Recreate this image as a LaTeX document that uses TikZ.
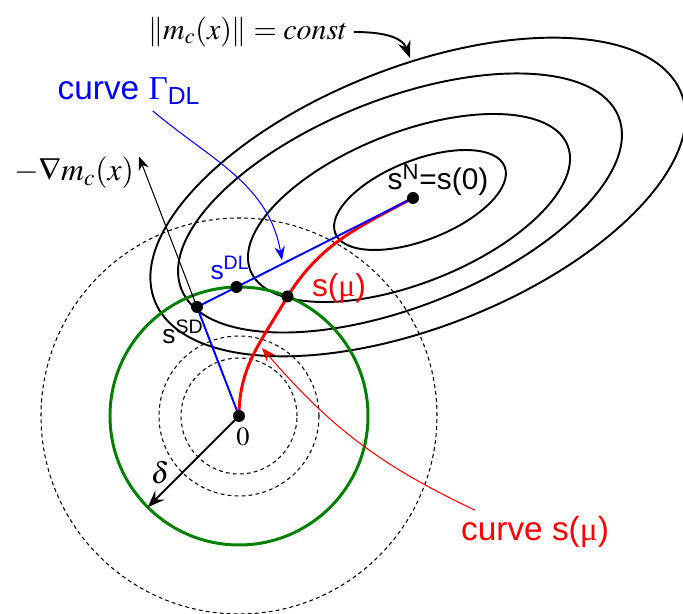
\documentclass[tikz,border=0pt]{standalone}
\usepackage{mathptmx}
\usepackage[no-math]{fontspec}
\setmainfont{Liberation Sans}
\newfontfamily\tms{Liberation Serif}
\usetikzlibrary{arrows.meta}

\begin{document}
\begin{tikzpicture}[every node/.style={font=\fontsize{15}{18}\selectfont},
	>={Stealth[length=3.4mm, width=2.6mm, inset=1.2mm]},
	isoline/.style={line width=1.1pt},
	dashring/.style={line width=0.6pt, dash pattern=on 2.2pt off 1.8pt},
	pointer/.style={line width=0.6pt, -{Stealth[length=2.7mm, width=2.1mm, inset=0.9mm]}},
	bigfont/.style={font=\fontsize{19}{22}\selectfont},
	mathfont/.style={font=\fontsize{17}{20}\selectfont}]
	\useasboundingbox (-4.78,-3.96) rectangle (8.88,8.32);
	\coordinate (O) at (0,0);
	\coordinate (sN) at (3.48,4.36);
	\coordinate (sSD) at (-0.84,2.18);
	\coordinate (sDL) at (-0.05,2.58);
	\coordinate (smu) at (0.97,2.39);
	\coordinate (gradTip) at (-2.0,5.19);
	\coordinate (constTip) at (3.42,7.16);
	\coordinate (dlTip) at (0.86,3.12);
	\coordinate (muTip) at (0.46,1.36);
	\coordinate (deltaTip) at (225:2.58);
	\draw[isoline, rotate around={21.5:(3.62,4.32)}] (3.62,4.32) ellipse (1.82 and 0.80);
	\draw[isoline, rotate around={21.5:(3.40,4.16)}] (3.40,4.16) ellipse (3.41 and 1.51);
	\draw[isoline, rotate around={21.5:(3.22,4.26)}] (3.22,4.26) ellipse (4.70 and 2.08);
	\draw[isoline, rotate around={21.5:(3.58,4.38)}] (3.58,4.38) ellipse (5.66 and 2.60);
	\draw[dashring] (O) circle (1.16);
	\draw[dashring] (O) circle (1.6);
	\draw[dashring] (O) circle (3.96);
	\draw[green!50!black, line width=1.7pt] (O) circle (2.58);
	\draw[pointer] (O) -- (gradTip);
	\draw[red, line width=1.7pt] (O) to[out=90, in=240] (smu) to[out=58, in=208] (sN);
	\draw[blue, line width=1.1pt] (O) -- (sSD) -- (sN);
	\draw[->, line width=1.1pt] (O) -- (deltaTip);
	\fill (O) circle (0.12);
	\fill (sN) circle (0.12);
	\fill (sSD) circle (0.12);
	\fill (sDL) circle (0.12);
	\fill (smu) circle (0.12);
	\node[mathfont] (const) at (0.18,7.68) {$\left\| m_c(x) \right\| = const$};
	\node[font=\fontsize{18}{21}\selectfont] (grad) at (-3.3,4.86) {$-\nabla m_c(x)$};
	\node[bigfont, blue] (dlcurve) at (-2.2,6.5) {curve {\tms Γ}\textsubscript{DL}};
	\node[bigfont, red] (mucurve) at (5.92,-2.32) {curve s({\tms μ})};
	\node[font=\fontsize{17}{20}\selectfont] (nlabel) at (3.98,4.72) {s\textsuperscript{N}=s(0)};
	\node[blue] (dllabel) at (-0.18,2.96) {s\textsuperscript{DL}};
	\node (sdlabel) at (-1.12,1.68) {s\textsuperscript{SD}};
	\node[red, font=\fontsize{18}{21}\selectfont] (mulabel) at (2.0,2.56) {s({\tms μ})};
	\node (zero) at (0.08,-0.42) {$0$};
	\node[mathfont] (delta) at (-1.58,-1.14) {$\delta$};
	\draw[->, line width=1.1pt] (const) to[out=0, in=110] (constTip);
	\draw[pointer, blue] (dlcurve) to[out=-40, in=100] (dlTip);
	\draw[pointer, red] ([xshift=0.4cm]mucurve.north west) to[bend left=12] (muTip);
\end{tikzpicture}
\end{document}
